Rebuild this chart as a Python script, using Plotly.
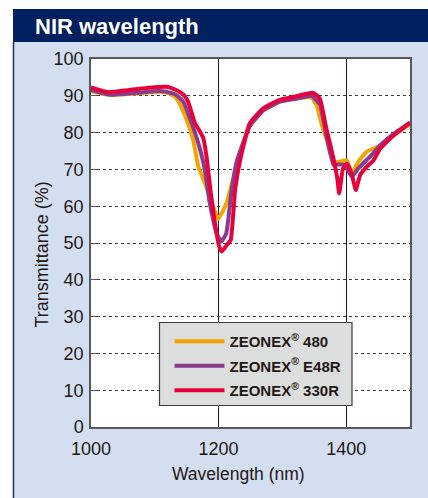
import plotly.graph_objects as go

# ---------------- data ----------------
series_names = ["ZEONEX<sup>®</sup> 480", "ZEONEX<sup>®</sup> E48R", "ZEONEX<sup>®</sup> 330R"]
series_colors = ["#f5a300", "#8c3a8e", "#e6003c"]

wl_480 = [1000, 1030, 1070, 1108, 1120, 1132, 1140, 1150, 1160, 1168, 1174, 1186, 1199, 1206,
          1213, 1220, 1228, 1235, 1249, 1270, 1296, 1322, 1340, 1346, 1354, 1362, 1369, 1380,
          1390, 1401, 1409, 1419, 1432, 1453, 1474, 1500]
tr_480 = [91.3, 90.2, 90.6, 91.1, 90.8, 89.7, 87.5, 83.5, 78.1, 70.9, 68.3, 62.8, 56.5, 58.5,
          61.1, 65.6, 70.9, 75.5, 82.0, 86.0, 88.5, 89.3, 89.6, 89.5, 87.3, 81.9, 78.3, 72.1,
          72.1, 72.5, 68.9, 72.1, 74.8, 76.5, 79.2, 82.3]

wl_e48r = [1000, 1030, 1070, 1108, 1125, 1134, 1145, 1152, 1160, 1168, 1176, 1181, 1186, 1196,
           1204, 1212, 1220, 1228, 1235, 1249, 1270, 1296, 1322, 1346, 1354, 1359, 1369, 1380,
           1386, 1395, 1401, 1409, 1419, 1437, 1453, 1474, 1500]
tr_e48r = [91.6, 90.3, 90.8, 91.3, 90.8, 90.2, 88.3, 85.3, 81.5, 77.2, 71.9, 67.0, 61.0, 53.1,
           50.4, 52.6, 63.8, 71.9, 75.5, 81.8, 86.0, 88.4, 89.2, 90.0, 88.6, 87.7, 79.2, 71.3,
           71.3, 71.3, 70.3, 68.0, 70.3, 73.4, 76.5, 79.6, 82.8]

wl_330r = [1000, 1027, 1060, 1100, 1121, 1134, 1145, 1152, 1158, 1163, 1170, 1176, 1181, 1187,
           1194, 1201, 1205, 1213, 1219, 1226, 1234, 1249, 1270, 1296, 1322, 1346, 1352, 1359,
           1369, 1380, 1386, 1389, 1395, 1401, 1409, 1415, 1422, 1432, 1443, 1453, 1474, 1500]
tr_330r = [92.3, 91.0, 91.6, 92.3, 92.4, 91.5, 90.3, 88.5, 85.3, 82.5, 80.5, 78.5, 73.6, 64.7,
           55.7, 49.0, 47.7, 49.5, 50.8, 64.7, 72.7, 82.6, 86.6, 88.9, 89.9, 90.8, 90.4, 89.1,
           81.0, 73.0, 67.6, 63.5, 70.3, 71.6, 68.5, 64.4, 68.5, 70.7, 72.5, 75.6, 79.2, 82.6]

x_ticks = [1000, 1200, 1400]
y_ticks = [0, 10, 20, 30, 40, 50, 60, 70, 80, 90, 100]

# ---------------- figure ----------------
FONT = "Liberation Sans, Arial, Helvetica, sans-serif"
TXT = "#231815"
W, H = 428, 498
L, R, T, B = 91, 18, 59, 71
pw, ph = W - L - R, H - T - B


def px_to_paper_x(px):
    return (px - L) / pw


def py_to_paper_y(py):
    return (H - B - py) / ph


fig = go.Figure()
for name, color, xs, ys in zip(series_names, series_colors,
                               [wl_480, wl_e48r, wl_330r], [tr_480, tr_e48r, tr_330r]):
    fig.add_trace(go.Scatter(x=xs, y=ys, mode="lines", name=name, legendgroup=name,
                             line=dict(color=color, width=4, shape="spline", smoothing=0.4)))

shapes = [
    # white outside frame (top and left)
    dict(type="rect", xref="paper", yref="paper", x0=px_to_paper_x(0), x1=px_to_paper_x(W),
         y0=py_to_paper_y(9), y1=py_to_paper_y(0), fillcolor="white", line_width=0, layer="below"),
    dict(type="rect", xref="paper", yref="paper", x0=px_to_paper_x(0), x1=px_to_paper_x(13),
         y0=py_to_paper_y(H), y1=py_to_paper_y(0), fillcolor="white", line_width=0, layer="below"),
    # title bar
    dict(type="rect", xref="paper", yref="paper", x0=px_to_paper_x(13), x1=px_to_paper_x(W),
         y0=py_to_paper_y(42), y1=py_to_paper_y(9), fillcolor="#002060", line_width=0, layer="below"),
    # left border
    dict(type="line", xref="paper", yref="paper", x0=px_to_paper_x(13.5), x1=px_to_paper_x(13.5),
         y0=py_to_paper_y(H), y1=py_to_paper_y(42), line=dict(color="#1a2f6e", width=1.5)),
    # legend box
    dict(type="rect", xref="paper", yref="paper", x0=px_to_paper_x(159.5), x1=px_to_paper_x(352),
         y0=py_to_paper_y(405.5), y1=py_to_paper_y(322.5), fillcolor="#dcdddd",
         line=dict(color="#3e3a39", width=1.2), layer="above"),
]

annotations = [
    dict(text="NIR wavelength", xref="paper", yref="paper", x=px_to_paper_x(33), y=py_to_paper_y(26),
         xanchor="left", yanchor="middle", showarrow=False,
         font=dict(family=FONT, size=22, color="white", weight="bold")),
    dict(text="Wavelength (nm)", xref="paper", yref="paper", x=px_to_paper_x(238.5), y=py_to_paper_y(474),
         xanchor="center", yanchor="middle", showarrow=False,
         font=dict(family=FONT, size=17.5, color=TXT)),
    dict(text="Transmittance (%)", xref="paper", yref="paper", x=px_to_paper_x(41.5), y=py_to_paper_y(255),
         xanchor="center", yanchor="middle", showarrow=False, textangle=-90,
         font=dict(family=FONT, size=18, color=TXT)),
]

fig.update_layout(
    width=W, height=H,
    margin=dict(l=L, r=R, t=T, b=B),
    paper_bgcolor="#d3def0",
    plot_bgcolor="white",
    font=dict(family=FONT, color=TXT),
    shapes=shapes,
    annotations=annotations,
    showlegend=True,
    legend=dict(x=px_to_paper_x(169.5), y=py_to_paper_y(325), xanchor="left", yanchor="top",
                bgcolor="rgba(0,0,0,0)", borderwidth=0,
                font=dict(family=FONT, size=15, color=TXT, weight="bold"),
                tracegroupgap=2, itemwidth=50),
)

fig.update_xaxes(range=[1000, 1500], tickvals=x_ticks, ticktext=[str(v) for v in x_ticks],
                 showgrid=True, gridcolor="#231815", gridwidth=1,
                 showline=True, mirror=True, linecolor="#595757", linewidth=1.5,
                 ticks="", zeroline=False, tickfont=dict(size=18, color=TXT),
                 ticklabelstandoff=5)
fig.update_yaxes(range=[0, 100], tickvals=y_ticks,
                 showgrid=True, gridcolor="#3e3a39", gridwidth=1, griddash="dot",
                 showline=True, mirror=True, linecolor="#595757", linewidth=1.5,
                 ticks="inside", ticklen=6, tickcolor="#595757", tickwidth=1,
                 zeroline=False, tickfont=dict(size=18, color=TXT),
                 ticklabelstandoff=2)

fig.write_html("out.html")
